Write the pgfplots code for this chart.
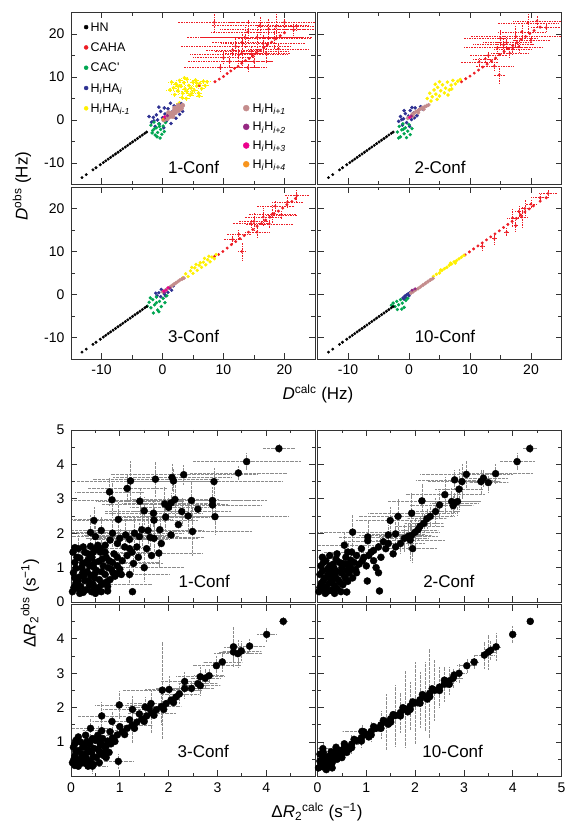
\documentclass[border=0pt]{standalone}
\usepackage{fontspec}
\setmainfont{Liberation Sans}
\usepackage{pgfplots}
\usepackage{pgfplotstable}
\pgfplotsset{compat=1.18}

\definecolor{cHN}{RGB}{0,0,0}
\definecolor{cCAHA}{RGB}{237,28,36}
\definecolor{cCAC}{RGB}{0,166,81}
\definecolor{cHHA}{RGB}{46,49,146}
\definecolor{cHHAm}{RGB}{255,240,0}
\definecolor{cHH1}{RGB}{196,140,140}
\definecolor{cHH2}{RGB}{150,40,130}
\definecolor{cHH3}{RGB}{236,0,140}
\definecolor{cHH4}{RGB}{247,148,29}

\tikzset{plab/.style={font=\fontsize{17}{17}\selectfont}}
\pgfplotsset{
  panel/.style={scale only axis, width=244pt, height=172pt, anchor=south west, axis on top,
    axis line style={black!80, line width=0.8pt},
    tick style={black!80, line width=0.8pt},
    major tick length=6pt, minor tick length=3.5pt,
    tick label style={font=\fontsize{14}{14}\selectfont},
    xticklabel style={yshift=-2.5pt}, yticklabel style={xshift=-3pt},
    xticklabels={}, yticklabels={}},
  dpanel/.style={panel, xmin=-15, xmax=25, ymin=-15, ymax=25,
    xtick={-10,0,10,20}, ytick={-10,0,10,20}, minor x tick num=1, minor y tick num=1},
  rpanel/.style={panel, xmin=0, xmax=5, ymin=0, ymax=5,
    xtick={0,...,5}, ytick={0,...,5}, minor x tick num=1, minor y tick num=1},
  pt/.style 2 args={only marks, mark=*, mark size=#2, color=#1, mark options={draw=none}, forget plot},
  eb/.style={/pgfplots/error bars/x dir=both, /pgfplots/error bars/y dir=both,
    /pgfplots/error bars/x explicit, /pgfplots/error bars/y explicit,
    /pgfplots/error bars/error mark=none,
    /pgfplots/error bars/error bar style={line width=0.55pt, dash pattern=on 0.55pt off 1.1pt}},
  ebf/.style 2 args={/pgfplots/error bars/x dir=both, /pgfplots/error bars/y dir=both,
    /pgfplots/error bars/x fixed=#1, /pgfplots/error bars/y fixed=#2,
    /pgfplots/error bars/error mark=none,
    /pgfplots/error bars/error bar style={line width=0.45pt, dash pattern=on 0.45pt off 1pt}},
  geb/.style={eb, /pgfplots/error bars/error bar style={color=black!45, line width=0.5pt, dash pattern=on 0.5pt off 0.8pt}},
  legimg/.style={legend image code/.code={\draw[##1] plot coordinates {(0pt,0pt)};}},
}

% ---------- top: residual dipolar couplings ----------
\pgfplotstableread[row sep=\\]{x y\\
-13.2 -13.4\\ -12.5 -12.7\\ -11.4 -11.6\\ -10.9 -11.1\\ -10.2 -10.4\\ -9.7 -9.9\\ -9.3 -9.5\\
-8.9 -9.1\\ -8.5 -8.7\\ -8.1 -8.3\\ -7.7 -7.9\\ -7.3 -7.5\\ -6.9 -7.1\\ -6.5 -6.7\\ -6.1 -6.3\\
-5.7 -5.9\\ -5.3 -5.5\\ -4.9 -5.1\\ -4.5 -4.7\\ -4.1 -4.3\\ -3.7 -3.9\\ -3.3 -3.5\\ -2.9 -3.1\\ -2.6 -2.8\\
}\hn

% 1-Conf
\pgfplotstableread[row sep=\\]{x y\\
8.6 8.9\\ 9.3 9.5\\ 10.0 10.1\\ 10.6 10.8\\ 11.2 11.4\\ 11.8 12.0\\ 12.4 12.5\\ 13.0 13.2\\
13.6 13.8\\ 14.2 14.3\\ 14.8 15.0\\ 15.4 15.6\\ 16.0 16.2\\ 16.6 16.8\\ 17.2 17.5\\ 17.9 18.1\\
18.6 18.9\\ 19.3 19.6\\ 20.0 20.3\\ 6.0 8.0\\
}\cahaAd
\pgfplotstableread[row sep=\\]{x y ex ey\\
9.5 12.2 6.0 1.0\\ 10.0 14.5 5.0 1.2\\ 11.0 13.6 7.0 1.5\\ 11.5 16.3 4.5 1.5\\ 12.0 17.1 9.0 2.0\\
12.5 15.2 8.0 2.0\\ 13.0 18.0 5.0 2.0\\ 13.5 19.2 9.5 2.5\\ 14.0 20.5 6.0 3.0\\ 14.6 16.0 6.0 1.5\\
15.0 13.6 3.0 1.2\\ 15.5 19.2 9.0 3.0\\ 16.0 22.0 8.0 2.0\\ 16.5 17.8 7.0 2.0\\ 17.0 15.5 4.0 2.0\\
17.4 21.1 8.0 2.5\\ 18.3 19.0 6.0 2.5\\ 18.6 21.8 3.0 2.8\\ 19.0 16.5 5.0 1.5\\ 20.0 22.7 9.0 2.0\\
21.5 21.0 4.0 1.5\\ 22.0 21.8 3.0 1.0\\ 14.0 12.2 3.0 1.0\\ 13.0 15.5 3.0 3.0\\ 8.5 22.7 6.0 2.5\\
}\cahaAs
\pgfplotstableread[row sep=\\]{x y\\
1.8 7.5\\ 2.2 8.4\\ 2.5 6.8\\ 2.8 9.2\\ 3.0 7.9\\ 3.3 6.2\\ 3.5 8.7\\ 3.7 7.2\\ 4.0 9.5\\ 4.0 6.6\\
4.3 8.0\\ 4.5 5.8\\ 4.7 7.4\\ 5.0 8.8\\ 5.2 6.9\\ 5.4 9.3\\ 5.6 7.9\\ 5.9 6.3\\ 6.1 8.5\\ 6.4 7.3\\
6.7 9.0\\ 7.0 8.0\\ 2.8 4.0\\ 3.2 5.2\\ 2.0 5.9\\ 1.5 8.8\\ 3.9 5.0\\ 6.0 5.6\\ 3.6 9.8\\ 2.6 7.8\\
4.8 6.2\\ 5.6 8.6\\ 7.3 8.9\\ 1.2 7.0\\
}\yelA
\pgfplotstableread[row sep=\\]{x y\\
-1.8 -0.5\\ -1.5 0.6\\ -1.2 -1.5\\ -1.0 1.2\\ -0.8 0.0\\ -0.5 -0.9\\ -0.3 2.0\\ 0.0 0.5\\ 0.2 -1.8\\
0.4 1.4\\ 0.6 -0.3\\ 0.9 2.6\\ 1.1 0.8\\ 1.4 -0.8\\ 1.6 1.9\\ 1.9 3.3\\ 2.2 0.4\\ 2.5 2.3\\ 2.8 1.3\\
3.1 3.8\\ 3.3 2.0\\ -2.2 0.8\\ -0.6 3.0\\ 1.3 3.9\\ -1.4 -0.2\\ 0.7 0.2\\ 2.0 1.5\\ 0.3 2.8\\
}\bluA
\pgfplotstableread[row sep=\\]{x y\\
-1.9 -1.2\\ -1.6 -2.4\\ -1.4 -0.5\\ -1.2 -3.5\\ -1.0 -1.8\\ -0.8 -2.9\\ -0.6 -0.9\\ -0.4 -4.2\\
-0.3 -2.2\\ -0.1 -3.3\\ 0.1 -1.4\\ 0.3 -2.7\\ 0.5 -0.6\\ -1.7 -3.0\\ -0.9 -3.9\\ -0.5 -1.5\\ -1.3 -2.0\\
}\grnA
\pgfplotstableread[row sep=\\]{x y\\
0.2 0.0\\ 0.5 0.6\\ 0.8 0.3\\ 0.9 1.1\\ 1.2 0.8\\ 1.4 1.6\\ 1.6 1.2\\ 1.9 2.1\\ 2.1 1.7\\ 2.3 2.6\\
2.6 2.2\\ 2.8 3.0\\ 3.1 2.7\\ 3.3 3.4\\ 1.0 1.7\\ 2.0 2.8\\ 1.7 0.8\\ 2.6 3.4\\
}\brnA

% 2-Conf
\pgfplotstableread[row sep=\\]{x y\\
8.6 8.9\\ 9.3 9.6\\ 10.0 10.2\\ 10.7 10.9\\ 11.4 11.6\\ 12.1 12.3\\ 12.8 13.0\\ 13.5 13.7\\
14.2 14.4\\ 14.9 15.2\\ 15.6 15.9\\ 16.3 16.6\\ 17.0 17.3\\ 17.7 18.0\\ 18.4 18.7\\ 19.1 19.4\\
19.8 20.1\\ 20.5 20.8\\ 21.5 21.6\\
}\cahaBd
\pgfplotstableread[row sep=\\]{x y ex ey\\
13.0 15.0 3.0 1.0\\ 14.5 16.8 5.5 1.5\\ 15.5 17.5 5.0 2.0\\ 16.5 15.5 3.0 1.0\\ 17.5 19.4 7.5 2.5\\
18.0 17.0 4.0 1.5\\ 19.5 22.6 5.0 2.5\\ 21.0 23.0 4.0 1.5\\ 22.5 21.5 2.5 1.0\\ 14.0 12.5 3.0 1.0\\
11.5 13.5 3.0 1.0\\ 14.8 10.5 1.0 2.3\\ 15.0 19.0 6.0 2.0\\ 18.5 20.5 4.0 2.0\\ 20.0 18.5 3.0 1.0\\
16.0 18.0 4.0 1.5\\ 12.5 14.2 2.0 1.0\\ 17.0 16.5 3.0 1.5\\
}\cahaBs
\pgfplotstableread[row sep=\\]{x y\\
3.0 5.0\\ 3.4 6.2\\ 3.8 5.4\\ 4.1 7.0\\ 4.4 6.0\\ 4.7 7.6\\ 5.0 5.6\\ 5.2 6.8\\ 5.5 8.2\\ 5.8 6.3\\
6.0 7.4\\ 6.3 8.8\\ 6.6 7.0\\ 6.9 8.1\\ 7.2 9.2\\ 7.6 8.4\\ 8.0 9.0\\ 8.4 9.4\\ 4.6 4.8\\ 3.6 4.4\\
6.4 5.8\\ 5.0 8.9\\ 4.3 8.3\\ 7.0 7.2\\
}\yelB
\pgfplotstableread[row sep=\\]{x y\\
-1.7 -0.3\\ -1.4 0.8\\ -1.1 -1.2\\ -0.9 0.3\\ -0.6 1.5\\ -0.4 -0.6\\ -0.1 0.9\\ 0.2 2.2\\ 0.4 0.1\\
0.7 1.6\\ 1.0 2.8\\ 1.3 1.0\\ 1.6 2.3\\ 1.9 3.1\\ -0.8 2.2\\ 0.1 -1.5\\ 0.9 0.5\\ 2.2 2.6\\ -1.2 0.1\\ 0.5 2.9\\
}\bluB
\pgfplotstableread[row sep=\\]{x y\\
-1.9 -2.8\\ -1.6 -1.5\\ -1.4 -3.9\\ -1.2 -2.3\\ -1.0 -0.9\\ -0.8 -3.2\\ -0.6 -1.8\\ -0.4 -4.1\\
-0.2 -2.6\\ 0.0 -1.1\\ 0.2 -3.4\\ 0.5 -2.0\\ -1.7 -4.2\\ -0.9 -2.1\\
}\grnB
\pgfplotstableread[row sep=\\]{x y\\
-0.2 0.4\\ 0.2 0.8\\ 0.5 1.3\\ 0.8 1.5\\ 1.1 1.9\\ 1.4 2.1\\ 1.7 2.4\\ 2.0 2.7\\ 2.3 2.9\\ 2.6 3.1\\
2.9 3.3\\ 3.2 3.5\\ 0.6 0.9\\ 1.5 1.7\\ 2.4 2.5\\
}\brnB

% 3-Conf
\pgfplotstableread[row sep=\\]{x y\\
8.5 8.8\\ 9.2 9.3\\ 9.9 10.0\\ 10.6 10.8\\ 11.3 11.6\\ 12.0 12.3\\ 12.7 13.0\\ 13.4 13.7\\
14.1 14.5\\ 14.8 15.1\\ 15.5 15.9\\ 16.2 16.5\\ 16.9 17.3\\ 17.6 18.0\\ 18.3 18.8\\ 19.0 19.4\\
19.7 20.1\\ 20.4 20.9\\ 21.2 21.6\\ 21.8 22.3\\
}\cahaCd
\pgfplotstableread[row sep=\\]{x y ex ey\\
13.0 10.0 0.8 2.3\\ 12.5 14.0 2.0 1.0\\ 14.5 16.5 3.0 1.0\\ 15.5 14.5 2.0 1.5\\ 16.5 18.0 3.0 2.0\\
17.5 16.4 4.0 1.0\\ 18.0 18.7 4.0 2.0\\ 18.5 20.5 3.0 1.5\\ 19.5 18.5 2.5 1.0\\ 20.5 21.5 2.5 1.5\\
22.0 23.0 2.0 1.2\\ 11.5 12.8 1.5 1.0\\ 15.0 17.0 2.5 2.0\\
}\cahaCs
\pgfplotstableread[row sep=\\]{x y\\
3.3 3.9\\ 3.8 4.8\\ 4.2 4.2\\ 4.6 5.5\\ 5.0 4.9\\ 5.3 6.2\\ 5.7 5.6\\ 6.0 6.8\\ 6.4 6.3\\ 6.7 7.5\\
7.1 6.9\\ 7.4 8.1\\ 7.8 7.6\\ 8.1 8.7\\ 8.5 8.3\\ 8.8 9.3\\ 5.5 7.0\\ 6.9 8.4\\ 4.8 6.3\\ 6.2 7.4\\ 7.6 8.9\\
}\yelC
\pgfplotstableread[row sep=\\]{x y\\
-0.9 -0.3\\ -0.6 0.4\\ -0.3 -0.5\\ 0.0 0.8\\ 0.3 0.1\\ 0.6 1.1\\ 0.9 0.5\\ 1.2 1.5\\ -0.2 1.2\\
0.5 -0.3\\ 1.5 1.0\\ 1.8 2.0\\ -1.1 0.3\\
}\bluC
\pgfplotstableread[row sep=\\]{x y\\
-2.5 -2.7\\ -2.2 -1.8\\ -1.9 -3.1\\ -1.6 -1.2\\ -1.3 -2.4\\ -1.0 -0.6\\ -0.8 -3.6\\ -0.5 -1.6\\
-0.2 -2.8\\ 0.1 -0.9\\ 0.4 -1.9\\ 0.7 -0.3\\ -1.5 -4.3\\ -0.6 -4.0\\ -2.0 -0.8\\ -1.0 -1.9\\
}\grnC
\pgfplotstableread[row sep=\\]{x y\\
0.0 0.6\\ 0.4 0.9\\ 0.7 1.2\\ 1.0 1.5\\ 1.3 1.8\\ 1.6 2.1\\ 1.9 2.4\\ 2.2 2.7\\ 2.5 3.0\\ 2.8 3.3\\
3.2 3.6\\ 3.5 3.8\\
}\brnC

% 10-Conf
\pgfplotstableread[row sep=\\]{x y\\
9.2 9.2\\ 9.9 9.9\\ 10.6 10.6\\ 11.3 11.3\\ 12.0 12.0\\ 12.7 12.7\\ 13.4 13.4\\ 14.1 14.1\\
14.8 14.8\\ 15.5 15.6\\ 16.2 16.3\\ 16.9 17.0\\ 17.6 17.7\\ 18.3 18.5\\ 19.0 19.2\\ 19.7 19.9\\
20.4 20.6\\ 21.5 21.7\\ 22.5 22.5\\
}\cahaDd
\pgfplotstableread[row sep=\\]{x y ex ey\\
14.0 13.0 0.5 1.5\\ 16.0 14.5 0.5 1.0\\ 17.0 17.8 1.0 2.0\\ 18.5 18.0 1.0 2.5\\ 19.0 20.0 1.0 2.0\\
18.0 19.3 0.8 1.5\\ 21.5 22.5 1.5 0.8\\ 22.8 23.5 1.5 1.0\\ 12.0 11.2 0.5 0.8\\ 20.0 21.0 1.0 1.0\\
17.5 16.0 0.5 1.5\\
}\cahaDs
\pgfplotstableread[row sep=\\]{x y\\
4.0 4.2\\ 4.5 4.7\\ 5.0 5.0\\ 5.4 5.6\\ 5.8 6.0\\ 6.2 6.3\\ 6.6 6.8\\ 7.0 7.1\\ 7.4 7.6\\ 7.8 7.9\\
8.2 8.3\\ 8.6 8.7\\ 9.0 9.1\\ 5.2 5.7\\ 6.8 7.3\\ 7.6 7.3\\
}\yelD
\pgfplotstableread[row sep=\\]{x y\\
-1.0 -0.8\\ -0.7 -0.4\\ -0.4 -0.1\\ -0.1 0.2\\ 0.2 0.5\\ 0.5 0.8\\ -0.5 -0.8\\ 0.0 -0.3\\ 0.8 1.0\\ -0.8 -1.1\\
}\bluD
\pgfplotstableread[row sep=\\]{x y\\
-2.9 -2.5\\ -2.6 -2.0\\ -2.3 -2.8\\ -2.0 -1.6\\ -1.7 -2.4\\ -1.4 -1.2\\ -1.1 -2.0\\ -0.8 -3.0\\
-0.5 -1.4\\ -0.2 -0.9\\ -1.9 -3.5\\ -1.2 -3.4\\
}\grnD
\pgfplotstableread[row sep=\\]{x y\\
0.3 0.3\\ 0.7 0.7\\ 1.1 1.1\\ 1.5 1.4\\ 1.9 1.8\\ 2.3 2.2\\ 2.7 2.6\\ 3.1 3.0\\ 3.5 3.4\\ 3.9 3.7\\
}\brnD

% ---------- bottom: Delta R2 ----------
\pgfplotstableread[row sep=\\]{x y ex ey\\
4.26 4.46 0.33 0.15\\ 3.60 4.08 1.10 0.25\\ 3.43 3.75 1.00 0.20\\ 2.93 3.50 1.40 0.40\\
2.31 3.70 1.50 0.30\\ 2.07 3.62 1.20 0.40\\ 2.10 3.52 0.90 0.35\\ 1.73 3.57 1.30 0.50\\
1.22 3.52 1.10 0.60\\ 1.15 3.30 0.80 0.40\\ 0.79 3.20 0.70 0.40\\ 0.84 2.97 0.90 0.50\\
1.41 2.93 0.90 0.40\\ 1.50 2.65 0.80 0.40\\ 1.69 2.58 1.00 0.40\\ 1.92 2.85 1.30 0.50\\
2.00 2.75 0.80 0.30\\ 2.05 2.88 1.00 0.30\\ 2.13 2.98 0.90 0.50\\ 2.47 2.95 1.20 0.60\\
2.27 2.63 1.00 0.40\\ 2.40 2.50 1.40 0.50\\ 2.90 2.95 1.10 0.40\\ 2.90 2.82 1.00 0.30\\
2.95 2.48 1.50 0.50\\ 1.94 2.47 0.90 0.40\\ 1.70 2.38 0.90 0.40\\ 2.49 2.05 1.20 0.70\\
1.82 2.10 0.90 0.40\\ 0.97 2.40 1.10 0.50\\ 0.47 2.37 0.80 0.40\\ 0.62 2.08 0.70 0.40\\
0.40 2.02 0.60 0.50\\ 0.50 1.90 0.80 0.40\\ 0.85 2.00 0.80 0.40\\ 1.00 1.85 0.70 0.30\\
1.12 1.95 0.90 0.40\\ 1.20 1.82 0.80 0.30\\ 1.30 2.00 1.00 0.50\\ 1.40 1.90 0.80 0.40\\
1.45 2.10 1.00 0.50\\ 1.58 2.08 0.90 0.40\\ 1.62 1.88 1.10 0.40\\ 1.70 1.85 0.90 0.50\\
1.80 1.42 0.90 0.40\\ 1.50 1.00 0.80 0.40\\ 1.28 1.12 0.60 0.30\\ 1.20 0.80 0.80 0.30\\
0.30 1.15 1.50 0.30\\ 0.45 0.52 1.20 0.30\\ 0.15 1.55 1.30 0.40\\ 0.60 1.45 1.00 0.30\\
}\rAe
\pgfplotstableread[row sep=\\]{x y\\
1.03 0.80\\ 0.92 0.82\\ 1.26 0.30\\ 0.75 0.45\\ 0.75 0.32\\ 0.50 0.25\\ 1.35 1.60\\ 1.25 1.45\\
1.15 1.35\\ 1.10 1.60\\ 0.95 1.70\\ 0.80 1.80\\ 0.70 1.65\\ 0.60 1.55\\
0.03 0.30\\ 0.10 0.55\\ 0.05 0.85\\ 0.08 1.15\\ 0.04 1.45\\ 0.18 0.25\\ 0.20 0.45\\ 0.16 0.72\\
0.22 1.00\\ 0.18 1.28\\ 0.30 0.35\\ 0.28 0.62\\ 0.33 0.88\\ 0.35 1.40\\ 0.42 0.30\\ 0.40 0.78\\
0.46 1.02\\ 0.43 1.30\\ 0.55 0.40\\ 0.58 0.65\\ 0.52 0.92\\ 0.57 1.18\\ 0.68 0.55\\ 0.70 0.80\\
0.66 1.05\\ 0.72 1.30\\ 0.80 0.65\\ 0.83 0.95\\ 0.78 1.20\\ 0.88 1.40\\ 0.90 0.75\\ 0.25 1.60\\
0.12 0.40\\ 0.38 0.48\\ 0.62 0.30\\ 0.95 1.05\\ 0.50 1.55\\ 0.08 0.70\\ 0.24 0.85\\ 0.48 0.70\\
0.06 0.42\\ 0.14 0.60\\ 0.10 0.98\\ 0.12 1.30\\ 0.08 1.58\\ 0.25 0.28\\ 0.26 0.75\\ 0.24 1.12\\
0.28 1.45\\ 0.36 0.62\\ 0.38 1.05\\ 0.35 1.22\\ 0.48 0.42\\ 0.50 0.85\\ 0.48 1.15\\ 0.46 1.45\\
0.62 0.50\\ 0.63 0.88\\ 0.64 1.25\\ 0.75 0.60\\ 0.76 1.00\\ 0.70 1.45\\ 0.86 0.85\\ 0.85 1.15\\
0.95 1.30\\ 1.00 0.95\\ 0.55 1.65\\ 0.40 1.62\\ 1.05 1.20\\ 1.20 1.55\\ 1.38 1.30\\ 1.55 1.55\\
1.65 1.35\\ 1.85 1.70\\ 2.05 1.95\\ 2.20 2.25\\ 2.60 2.70\\
}\rAn
\pgfplotstableread[row sep=\\]{x y ex ey\\
4.35 4.46 0.15 0.15\\ 4.09 4.08 0.36 0.25\\ 3.65 3.73 0.75 0.30\\ 3.50 3.47 0.40 0.30\\
3.40 3.60 0.50 0.25\\ 3.35 3.50 0.40 0.35\\ 3.05 3.71 0.95 0.40\\ 2.96 3.50 0.70 0.50\\
2.81 3.55 0.80 0.30\\ 2.90 3.28 0.50 0.60\\ 2.87 2.92 0.45 0.40\\ 2.80 2.88 0.50 0.30\\
2.75 2.92 0.60 0.40\\ 2.78 2.80 0.40 0.30\\ 2.61 3.12 0.80 0.50\\ 2.50 2.82 0.60 0.40\\
2.42 2.63 0.50 0.40\\ 2.31 2.49 0.50 0.30\\ 2.24 2.42 0.40 0.30\\ 2.18 2.29 0.40 0.30\\
2.10 2.20 0.50 0.30\\ 2.06 2.10 0.40 0.30\\ 2.00 2.03 0.50 0.40\\ 1.93 1.94 0.40 0.30\\
1.86 1.91 0.60 0.40\\ 2.14 2.94 0.70 0.50\\ 1.93 2.58 0.90 0.60\\ 1.65 2.49 0.80 0.50\\
1.49 2.37 0.70 0.40\\ 1.03 1.89 0.60 0.50\\ 1.03 1.78 0.50 0.40\\ 0.72 2.03 0.70 0.50\\
1.45 1.95 0.60 0.30\\ 1.60 1.98 0.60 0.40\\ 1.78 1.85 0.50 0.40\\ 1.70 1.70 0.50 0.30\\
1.95 1.55 0.50 0.40\\ 1.90 1.80 0.70 0.60\\ 0.55 1.65 0.60 0.40\\ 0.62 1.45 0.50 0.30\\
}\rBe
\pgfplotstableread[row sep=\\]{x y\\
1.25 0.85\\ 0.80 0.85\\ 1.02 0.61\\ 1.27 0.32\\ 0.60 0.29\\ 1.20 1.00\\ 1.15 1.20\\ 1.30 1.30\\
1.40 1.55\\ 1.35 1.75\\ 1.25 1.60\\ 1.10 1.45\\ 0.95 1.30\\ 0.85 1.10\\ 1.00 1.05\\ 1.55 1.40\\
0.90 1.55\\
0.03 0.30\\ 0.08 0.55\\ 0.05 0.80\\ 0.07 1.05\\ 0.16 0.25\\ 0.18 0.45\\ 0.15 0.70\\ 0.20 0.95\\
0.17 1.20\\ 0.28 0.35\\ 0.30 0.60\\ 0.27 0.85\\ 0.32 1.10\\ 0.40 0.40\\ 0.42 0.65\\ 0.38 0.90\\
0.45 1.15\\ 0.52 0.50\\ 0.55 0.75\\ 0.50 1.00\\ 0.62 0.60\\ 0.65 0.85\\ 0.60 1.10\\ 0.70 0.95\\
0.12 0.38\\ 0.24 0.72\\ 0.35 0.25\\ 0.48 0.30\\ 0.72 0.70\\ 0.58 1.30\\ 0.25 1.35\\ 0.10 1.30\\
0.05 0.42\\ 0.12 0.62\\ 0.10 0.90\\ 0.12 1.15\\ 0.22 0.32\\ 0.24 0.55\\ 0.22 0.82\\ 0.25 1.05\\
0.35 0.48\\ 0.36 0.75\\ 0.34 0.98\\ 0.38 1.25\\ 0.46 0.58\\ 0.48 0.85\\ 0.52 1.12\\ 0.58 0.68\\
0.60 0.92\\ 0.66 1.05\\ 0.68 1.22\\ 0.78 0.95\\ 0.75 1.15\\ 0.80 1.35\\ 0.70 1.45\\ 0.92 1.20\\
1.05 1.35\\ 1.15 1.50\\ 1.45 1.70\\ 1.60 1.60\\ 0.40 1.40\\
}\rBn
\pgfplotstableread[row sep=\\]{x y ex ey\\
4.35 4.51 0.10 0.15\\ 4.01 4.13 0.20 0.20\\ 3.66 3.79 0.30 0.20\\ 3.49 3.65 0.40 0.30\\
3.42 3.57 0.50 0.40\\ 3.33 3.62 0.30 0.30\\ 3.33 3.77 0.20 0.60\\ 3.10 3.33 0.40 0.30\\
2.98 3.22 0.50 0.30\\ 2.83 2.93 0.30 0.20\\ 2.75 2.86 0.30 0.30\\ 2.65 2.90 0.50 0.30\\
2.65 2.64 0.40 0.30\\ 2.60 2.70 0.40 0.20\\ 2.47 2.56 0.30 0.20\\ 2.33 2.56 0.60 0.30\\
2.22 2.40 0.40 0.30\\ 2.01 2.53 0.50 0.40\\ 1.87 2.51 0.80 1.40\\ 2.33 2.76 0.50 0.30\\
0.99 2.08 0.50 0.40\\ 1.26 1.95 0.60 0.40\\ 0.63 1.76 0.50 0.40\\ 1.52 2.02 0.40 0.30\\
1.64 2.12 0.50 0.40\\ 0.40 1.40 0.40 0.30\\ 0.63 1.33 0.40 0.30\\ 0.97 0.44 0.30 0.20\\
0.44 0.30 0.30 0.20\\ 0.84 1.60 0.40 0.30\\ 0.55 1.20 0.40 0.30\\ 0.60 1.00 0.30 0.30\\
1.65 1.85 0.50 0.60\\ 1.25 1.49 0.40 0.50\\ 1.85 2.03 0.40 0.50\\
}\rCe
\pgfplotstableread[row sep=\\]{x y\\
2.15 2.31\\ 2.05 2.22\\ 1.95 2.12\\ 1.75 1.94\\ 1.55 1.76\\ 1.45 1.67\\ 1.35 1.58\\ 1.15 1.40\\
1.05 1.30\\ 0.95 1.21\\ 0.85 1.12\\ 0.75 1.03\\ 2.10 2.15\\ 1.90 1.95\\ 1.70 1.78\\ 1.50 1.60\\
1.30 1.40\\ 1.10 1.22\\ 0.90 1.02\\ 1.60 1.98\\ 1.40 1.82\\ 1.20 1.65\\ 1.00 1.45\\ 0.80 1.30\\
0.03 0.40\\ 0.08 0.60\\ 0.05 0.85\\ 0.15 0.30\\ 0.18 0.50\\ 0.15 0.75\\ 0.20 1.00\\ 0.28 0.40\\
0.30 0.65\\ 0.27 0.90\\ 0.40 0.45\\ 0.42 0.70\\ 0.38 0.95\\ 0.52 0.55\\ 0.55 0.80\\ 0.50 1.05\\
0.62 0.65\\ 0.65 0.90\\ 0.70 0.75\\ 0.10 1.05\\ 0.35 0.30\\ 0.58 0.40\\ 0.12 0.45\\ 0.24 0.58\\
0.46 0.35\\ 0.72 0.55\\
0.06 0.50\\ 0.10 0.72\\ 0.08 0.95\\ 0.22 0.40\\ 0.22 0.65\\ 0.24 0.85\\ 0.32 0.52\\ 0.34 0.78\\
0.33 1.02\\ 0.46 0.58\\ 0.46 0.82\\ 0.44 1.10\\ 0.58 0.72\\ 0.60 0.95\\ 0.55 1.15\\ 0.68 0.60\\
0.72 0.88\\ 0.78 0.70\\ 0.82 0.95\\ 0.65 1.10\\ 0.15 1.15\\ 0.30 1.20\\ 0.88 1.05\\ 0.08 0.32\\
}\rCn
\pgfplotstableread[row sep=\\]{x y ex ey\\
4.36 4.51 0.05 0.10\\ 4.00 4.13 0.05 0.25\\ 3.66 3.77 0.10 0.40\\ 3.55 3.67 0.10 0.30\\
3.50 3.62 0.15 0.50\\ 3.42 3.53 0.20 0.40\\ 3.21 3.33 0.10 0.20\\ 3.06 3.22 0.20 0.20\\
2.90 3.00 0.15 0.30\\ 2.78 2.86 0.20 0.30\\
0.10 0.39 0.15 0.2\\ 0.30 0.58 0.15 0.2\\ 0.50 0.76 0.20 0.3\\ 0.70 0.94 0.15 0.3\\
0.90 1.13 0.20 0.3\\ 1.10 1.31 0.15 0.3\\ 1.30 1.50 0.20 0.4\\ 1.40 1.59 0.10 0.8\\
1.60 1.77 0.10 0.9\\ 1.70 1.86 0.20 0.6\\ 1.80 1.96 0.10 1.1\\ 1.90 2.05 0.15 0.7\\
2.00 2.14 0.10 1.2\\ 2.10 2.23 0.20 0.8\\ 2.20 2.32 0.10 1.0\\ 2.30 2.42 0.15 1.3\\
2.40 2.51 0.10 0.9\\ 2.50 2.60 0.20 0.6\\ 2.60 2.69 0.10 0.5\\ 2.70 2.78 0.15 0.4\\
0.91 1.31 0.40 0.20\\ 0.11 0.81 0.15 0.20\\
}\rDe
\pgfplotstableread[row sep=\\]{x y\\
0.20 0.48\\ 0.40 0.67\\ 0.60 0.85\\ 0.80 1.04\\ 1.00 1.22\\ 1.20 1.40\\ 1.50 1.68\\
0.15 0.58\\ 0.35 0.70\\ 0.55 0.95\\ 0.75 1.08\\ 0.95 1.30\\ 1.15 1.45\\ 1.35 1.63\\ 1.55 1.80\\
1.75 2.00\\ 1.95 2.17\\ 2.15 2.38\\ 2.35 2.55\\ 0.25 0.40\\ 0.65 0.80\\ 1.05 1.15\\ 1.45 1.52\\
1.85 1.88\\ 2.25 2.25\\
0.02 0.25\\ 0.05 0.45\\ 0.10 0.30\\ 0.15 0.55\\ 0.20 0.35\\ 0.25 0.60\\ 0.30 0.40\\ 0.35 0.65\\
0.40 0.50\\ 0.45 0.75\\ 0.05 0.65\\ 0.18 0.20\\ 0.30 0.25\\ 0.50 0.55\\ 0.55 0.85\\ 0.12 0.70\\
0.38 0.85\\ 0.60 0.70\\ 0.25 0.45\\
0.10 0.29\\ 0.30 0.48\\ 0.50 0.66\\ 0.70 0.84\\ 0.90 1.03\\ 1.10 1.21\\ 1.30 1.40\\ 1.50 1.58\\
1.70 1.76\\ 1.90 1.95\\ 2.10 2.13\\ 2.30 2.32\\ 2.50 2.50\\ 2.70 2.68\\ 2.80 2.95\\ 2.60 2.80\\
0.08 0.38\\ 0.22 0.50\\ 0.35 0.52\\ 0.42 0.62\\ 0.10 0.55\\ 0.28 0.72\\ 0.48 0.65\\
}\rDn

\begin{document}
\begin{tikzpicture}[x=1pt,y=1pt]
\path[use as bounding box] (0,0) rectangle (565,829);

% ===== 1-Conf (D) =====
\begin{axis}[dpanel, at={(71pt,644.5pt)}, yticklabels={-10,0,10,20},
  legimg, legend cell align=left,
  legend style={at={(0.053,0.951)}, anchor=north west, draw=none, fill=none, inner sep=0pt,
    row sep=8.3pt, column sep=2.5pt, font=\fontsize{12.5}{13}\selectfont,
    nodes={inner sep=0pt, text height=10pt, text depth=2pt}}]
\addplot[pt={cCAHA}{1.2pt}, eb] table[x=x,y=y,x error=ex,y error=ey]{\cahaAs};
\addplot[pt={cCAHA}{1.3pt}] table[x=x,y=y]{\cahaAd};
\addplot[pt={cHHAm}{1.6pt}, ebf={0.7}{0.5}] table[x=x,y=y]{\yelA};
\addplot[pt={cHHA}{1.6pt}] table[x=x,y=y]{\bluA};
\addplot[pt={cCAC}{1.5pt}] table[x=x,y=y]{\grnA};
\addplot[pt={cHN}{1.3pt}] table[x=x,y=y]{\hn};
\addlegendimage{only marks, mark=*, mark size=2pt, color=cHN}\addlegendentry{HN}
\addlegendimage{only marks, mark=*, mark size=2pt, color=cCAHA}\addlegendentry{CAHA}
\addlegendimage{only marks, mark=*, mark size=2pt, color=cCAC}\addlegendentry{CAC\textquotesingle}
\addlegendimage{only marks, mark=*, mark size=2pt, color=cHHA}\addlegendentry{H\textsubscript{\textit{i}}HA\textsubscript{\textit{i}}}
\addlegendimage{only marks, mark=*, mark size=2pt, color=cHHAm}\addlegendentry{H\textsubscript{\textit{i}}HA\textsubscript{\textit{i-1}}}
\node[plab] at (axis cs:5.1,-11) {1-Conf};
\end{axis}
\begin{axis}[dpanel, at={(71pt,644.5pt)}, hide axis,
  legimg, legend cell align=left,
  legend style={at={(0.705,0.480)}, anchor=north west, draw=none, fill=none, inner sep=0pt,
    row sep=6.7pt, column sep=3.5pt, font=\fontsize{12.5}{13}\selectfont,
    nodes={inner sep=0pt, text height=10pt, text depth=2pt}}]
\addplot[pt={cHH1}{2.2pt}] table[x=x,y=y]{\brnA};
\addplot[pt={cHH2}{1.4pt}] coordinates {(0.3,0.4) (0.8,1.0)};
\addplot[pt={cHH3}{1.4pt}] coordinates {(0.3,0.7)};
\addplot[pt={cHH4}{1.3pt}] coordinates {(0.1,0.2)};
\addlegendimage{only marks, mark=*, mark size=3pt, color=cHH1}\addlegendentry{H\textsubscript{\textit{i}}H\textsubscript{\textit{i+1}}}
\addlegendimage{only marks, mark=*, mark size=3pt, color=cHH2}\addlegendentry{H\textsubscript{\textit{i}}H\textsubscript{\textit{i+2}}}
\addlegendimage{only marks, mark=*, mark size=3pt, color=cHH3}\addlegendentry{H\textsubscript{\textit{i}}H\textsubscript{\textit{i+3}}}
\addlegendimage{only marks, mark=*, mark size=3pt, color=cHH4}\addlegendentry{H\textsubscript{\textit{i}}H\textsubscript{\textit{i+4}}}
\end{axis}

% ===== 2-Conf (D) =====
\begin{axis}[dpanel, at={(317.5pt,644.5pt)}]
\addplot[pt={cCAHA}{1.2pt}, eb] table[x=x,y=y,x error=ex,y error=ey]{\cahaBs};
\addplot[pt={cCAHA}{1.3pt}] table[x=x,y=y]{\cahaBd};
\addplot[pt={cHHAm}{1.6pt}] table[x=x,y=y]{\yelB};
\addplot[pt={cHHA}{1.6pt}] table[x=x,y=y]{\bluB};
\addplot[pt={cCAC}{1.5pt}] table[x=x,y=y]{\grnB};
\addplot[pt={cHH1}{1.9pt}] table[x=x,y=y]{\brnB};
\addplot[pt={cHH2}{1.3pt}] coordinates {(0.4,0.9)};
\addplot[pt={cHH3}{1.3pt}] coordinates {(0.1,0.6)};
\addplot[pt={cHN}{1.3pt}] table[x=x,y=y]{\hn};
\node[plab] at (axis cs:5.1,-11) {2-Conf};
\end{axis}

% ===== 3-Conf (D) =====
\begin{axis}[dpanel, at={(71pt,470pt)}, xticklabels={-10,0,10,20}, yticklabels={-10,0,10,20}]
\addplot[pt={cCAHA}{1.2pt}, eb] table[x=x,y=y,x error=ex,y error=ey]{\cahaCs};
\addplot[pt={cCAHA}{1.3pt}] table[x=x,y=y]{\cahaCd};
\addplot[pt={cHHAm}{1.5pt}] table[x=x,y=y]{\yelC};
\addplot[pt={cHHA}{1.5pt}] table[x=x,y=y]{\bluC};
\addplot[pt={cCAC}{1.5pt}] table[x=x,y=y]{\grnC};
\addplot[pt={cHH1}{1.8pt}] table[x=x,y=y]{\brnC};
\addplot[pt={cHH2}{1.3pt}] coordinates {(0.3,0.5) (1.2,1.5)};
\addplot[pt={cHH3}{1.3pt}] coordinates {(0.2,0.8) (0.6,1.0) (0.9,1.6)};
\addplot[pt={cHN}{1.3pt}] table[x=x,y=y]{\hn};
\node[plab] at (axis cs:5.1,-9.8) {3-Conf};
\end{axis}

% ===== 10-Conf (D) =====
\begin{axis}[dpanel, at={(317.5pt,470pt)}, xticklabels={-10,0,10,20}]
\addplot[pt={cCAHA}{1.2pt}, eb] table[x=x,y=y,x error=ex,y error=ey]{\cahaDs};
\addplot[pt={cCAHA}{1.3pt}] table[x=x,y=y]{\cahaDd};
\addplot[pt={cHHAm}{1.5pt}] table[x=x,y=y]{\yelD};
\addplot[pt={cHHA}{1.5pt}] table[x=x,y=y]{\bluD};
\addplot[pt={cCAC}{1.5pt}] table[x=x,y=y]{\grnD};
\addplot[pt={cHH1}{1.8pt}] table[x=x,y=y]{\brnD};
\addplot[pt={cHH2}{1.3pt}] coordinates {(0.5,1.0) (1.0,1.3)};
\addplot[pt={cHN}{1.3pt}] table[x=x,y=y]{\hn};
\node[plab] at (axis cs:5.9,-9.8) {10-Conf};
\end{axis}

% ===== Delta R2 panels =====
\begin{axis}[rpanel, at={(71pt,227pt)}, yticklabels={0,1,2,3,4,5}]
\addplot[pt={black}{3.5pt}, geb] table[x=x,y=y,x error=ex,y error=ey]{\rAe};
\addplot[pt={black}{3.5pt}] table[x=x,y=y]{\rAn};
\node[plab] at (axis cs:2.73,0.6) {1-Conf};
\end{axis}
\begin{axis}[rpanel, at={(317.5pt,227pt)}]
\addplot[pt={black}{3.5pt}, geb] table[x=x,y=y,x error=ex,y error=ey]{\rBe};
\addplot[pt={black}{3.5pt}] table[x=x,y=y]{\rBn};
\node[plab] at (axis cs:2.69,0.6) {2-Conf};
\end{axis}
\begin{axis}[rpanel, at={(71pt,52.5pt)}, xticklabels={0,1,2,3,4,{}}, yticklabels={{},1,2,3,4,{}}]
\addplot[pt={black}{3.5pt}, geb] table[x=x,y=y,x error=ex,y error=ey]{\rCe};
\addplot[pt={black}{3.5pt}] table[x=x,y=y]{\rCn};
\node[plab] at (axis cs:2.71,0.73) {3-Conf};
\end{axis}
\begin{axis}[rpanel, at={(317.5pt,52.5pt)}, xticklabels={0,1,2,3,4,5}]
\addplot[pt={black}{3.5pt}, geb] table[x=x,y=y,x error=ex,y error=ey]{\rDe};
\addplot[pt={black}{3.5pt}] table[x=x,y=y]{\rDn};
\node[plab] at (axis cs:2.77,0.73) {10-Conf};
\end{axis}

% axis titles
\node[rotate=90, font=\fontsize{17}{17}\selectfont] at (22,643) {\textit{D}\textsuperscript{obs} (Hz)};
\node[font=\fontsize{17}{17}\selectfont] at (318,435) {\textit{D}\textsuperscript{calc} (Hz)};
\node[rotate=90, font=\fontsize{17}{17}\selectfont] at (30,226) {Δ\textit{R}\textsubscript{2}\textsuperscript{obs} (s\textsuperscript{−1})};
\node[font=\fontsize{17}{17}\selectfont] at (317,17) {Δ\textit{R}\textsubscript{2}\textsuperscript{calc} (s\textsuperscript{−1})};
\end{tikzpicture}
\end{document}
